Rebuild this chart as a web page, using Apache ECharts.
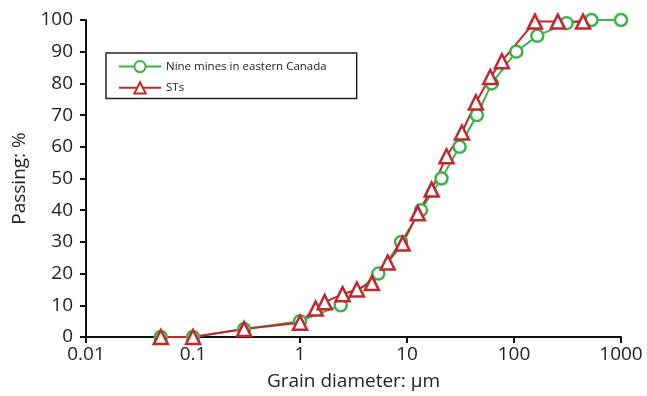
<!DOCTYPE html>
<html>
<head>
<meta charset="utf-8">
<script src="https://cdn.jsdelivr.net/npm/echarts@6/dist/echarts.min.js"></script>
<style>
  html, body { margin: 0; padding: 0; background: #fff; }
  #chart { width: 647px; height: 396px; }
</style>
</head>
<body>
<div id="chart"></div>
<script>
// Nine mines in eastern Canada
const mineSize = [0.05, 0.1, 0.3, 1, 2.4, 5.4, 8.8, 13.5, 21, 31, 45, 62, 105, 165, 310, 530, 1000]
const minePass = [0, 0, 2.5, 5, 10, 20, 30, 40, 50, 60, 70, 80, 90, 95, 99, 100, 100]

// STs
const stSize = [0.05, 0.1, 0.3, 1, 1.4, 1.7, 2.5, 3.4, 4.7, 6.6, 9.1, 12.6, 17, 23.4, 32.6, 44, 60, 77, 157, 257, 442]
const stPass = [0, 0, 2.5, 4.5, 9, 11, 13.5, 15, 17, 23.5, 29.5, 39, 46.5, 57, 64.5, 74, 82, 87, 99.5, 99.5, 99.5]

const xTicks = [0.01, 0.1, 1, 10, 100, 1000]

const font = "'Open Sans', 'DejaVu Sans', sans-serif"
const green = "#3bb54a"
const red = "#c1272d"

const chart = echarts.init(document.getElementById("chart"))

const axisLine = { show: true, onZero: false, lineStyle: { color: "#111", width: 2 } }
const axisTick = { show: true, length: 6, lineStyle: { color: "#111", width: 2 } }

const option = {
  backgroundColor: "#fff",
  animation: false,
  textStyle: { fontFamily: font },
  grid: { left: 86, right: 26, top: 20, bottom: 58 },
  legend: {
    orient: "vertical",
    left: 106,
    top: 53,
    itemWidth: 42,
    itemHeight: 14,
    itemGap: 8,
    padding: [7, 30, 4, 12],
    borderColor: "#222",
    borderWidth: 1.5,
    textStyle: { fontFamily: font, fontSize: 11.5, color: "#222" },
    data: ["Nine mines in eastern Canada", "STs"],
  },
  xAxis: {
    type: "log",
    logBase: 10,
    min: 0.01,
    max: 1000,
    name: "Grain diameter: μm",
    nameLocation: "middle",
    nameGap: 35,
    nameTextStyle: { fontFamily: font, fontSize: 19, color: "#222" },
    axisLine: axisLine,
    axisTick: axisTick,
    axisLabel: {
      fontFamily: font,
      fontSize: 19,
      color: "#222",
      margin: 8,
      formatter: (v) => {
        const t = xTicks.find((k) => Math.abs(Math.log10(k) - Math.log10(v)) < 1e-6)
        return t !== undefined ? String(t) : ""
      },
    },
    splitLine: { show: false },
  },
  yAxis: {
    type: "value",
    min: 0,
    max: 100,
    interval: 10,
    name: "Passing: %",
    nameLocation: "middle",
    nameGap: 55,
    nameTextStyle: { fontFamily: font, fontSize: 19, color: "#222" },
    axisLine: axisLine,
    axisTick: axisTick,
    axisLabel: { fontFamily: font, fontSize: 19, color: "#222", margin: 13 },
    splitLine: { show: false },
  },
  series: [
    {
      name: "Nine mines in eastern Canada",
      type: "line",
      clip: false,
      data: mineSize.map((x, i) => [x, minePass[i]]),
      symbol: "circle",
      symbolSize: 12,
      showAllSymbol: true,
      lineStyle: { color: green, width: 2 },
      itemStyle: { color: "#fff", borderColor: green, borderWidth: 2.5 },
    },
    {
      name: "STs",
      type: "line",
      clip: false,
      data: stSize.map((x, i) => [x, stPass[i]]),
      symbol: "triangle",
      symbolSize: 14,
      showAllSymbol: true,
      lineStyle: { color: red, width: 2 },
      itemStyle: { color: "#fff", borderColor: red, borderWidth: 2.5 },
    },
  ],
}

chart.setOption(option)
</script>
</body>
</html>
